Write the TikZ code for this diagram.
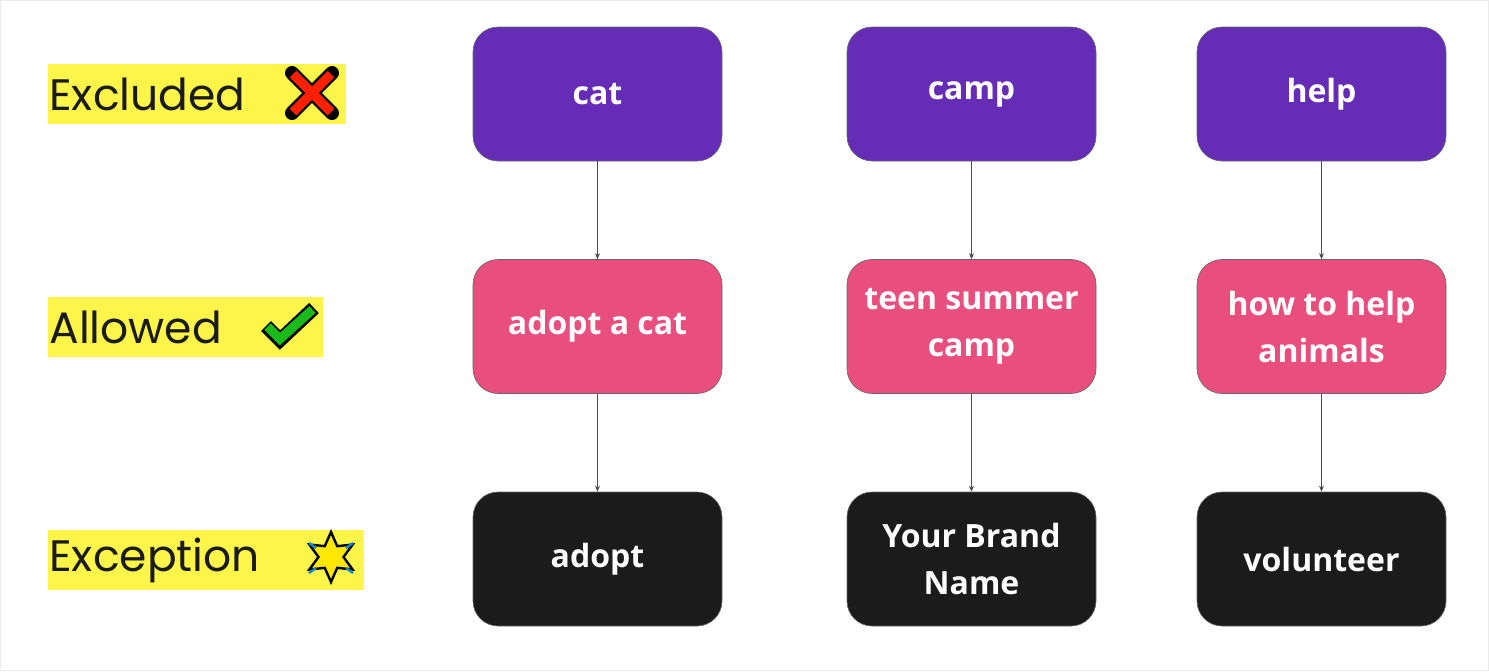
\documentclass[tikz,border=0pt]{standalone}
\usepackage{fontspec}
\setmainfont{Open Sans}
\newfontfamily\labfont{Poppins}
\usetikzlibrary{arrows.meta,shapes.geometric}
\definecolor{pur}{HTML}{652DB5}
\definecolor{pnk}{HTML}{E84E7E}
\definecolor{blk}{HTML}{1B1B1B}
\definecolor{hl}{HTML}{FDF54A}
\begin{document}
\begin{tikzpicture}[x=0.5pt,y=-0.5pt,
  box/.style={rounded corners=12.5pt,minimum width=124.5pt,minimum height=67pt,text=white,font=\bfseries\fontsize{16}{23.5}\selectfont,align=center,inner sep=0pt,draw=black!60,line width=0.3pt},
  conn/.style={draw=black!70,line width=0.4pt,-{Stealth[length=3pt,width=2.5pt]}},
  lab/.style={fill=hl,anchor=west,font=\labfont\fontsize{22}{26}\selectfont,inner sep=0pt,text=blk}]
\useasboundingbox (0,0) rectangle (1489,671);
\draw[black!8] (0.5,0.5) rectangle (1488.5,670.5);
% labels
\fill[hl] (48,64) rectangle (346,124);
\fill[hl] (48,297) rectangle (323,357);
\fill[hl] (48,530) rectangle (364,590);
\node[anchor=west,font=\labfont\fontsize{22}{26}\selectfont,text=blk,inner sep=0pt] (l1) at (49,94) {Excluded};
\node[anchor=west,font=\labfont\fontsize{22}{26}\selectfont,text=blk,inner sep=0pt] (l2) at (49,327) {Allowed};
\node[anchor=west,font=\labfont\fontsize{22}{26}\selectfont,text=blk,inner sep=0pt] (l3) at (49,560) {Exception};
% X icon
\begin{scope}[shift={(312,93)}]
\draw[line width=7pt,black,line cap=round] (-20,-20)--(20,20) (-20,20)--(20,-20);
\draw[line width=4.6pt,red!75!orange] (-19,-19)--(19,19) (-19,19)--(19,-19);
\end{scope}
% check icon
\begin{scope}[shift={(290,326)}]
\draw[line width=7pt,black,line join=miter] (-24,0)--(-10,14)--(24,-18);
\draw[line width=4.6pt,green!70!black!90,line join=miter] (-22.5,0.5)--(-10,13)--(22.5,-16.5);
\end{scope}
% star icon
\begin{scope}[shift={(331,557)}]
\node[star,star points=6,star point ratio=2,minimum size=25pt,fill=yellow!90!orange,draw=black,line width=1.2pt,inner sep=0pt] (st) at (0,0) {};
\draw[cyan!70!blue,line width=1.2pt] (-22,-14)--(-15,-9) (22,-14)--(15,-9) (-22,16)--(-15,11) (22,16)--(15,11);
\end{scope}
% boxes
\node[box,fill=pur] (c1) at (597.5,94) {cat};
\node[box,fill=pur] (c2) at (971.5,94) {camp};
\node[box,fill=pur] (c3) at (1321.5,94) {help};
\node[box,fill=pnk] (a1) at (597.5,326.5) {adopt a cat};
\node[box,fill=pnk] (a2) at (971.5,326.5) {teen summer\\camp};
\node[box,fill=pnk] (a3) at (1321.5,326.5) {how to help\\animals};
\node[box,fill=blk] (e1) at (597.5,559) {adopt};
\node[box,fill=blk] (e2) at (971.5,559) {Your Brand\\Name};
\node[box,fill=blk] (e3) at (1321.5,559) {volunteer};
\foreach \i in {1,2,3}{
 \draw[conn] (c\i) -- (a\i);
 \draw[conn] (a\i) -- (e\i);
}
\end{tikzpicture}
\end{document}
